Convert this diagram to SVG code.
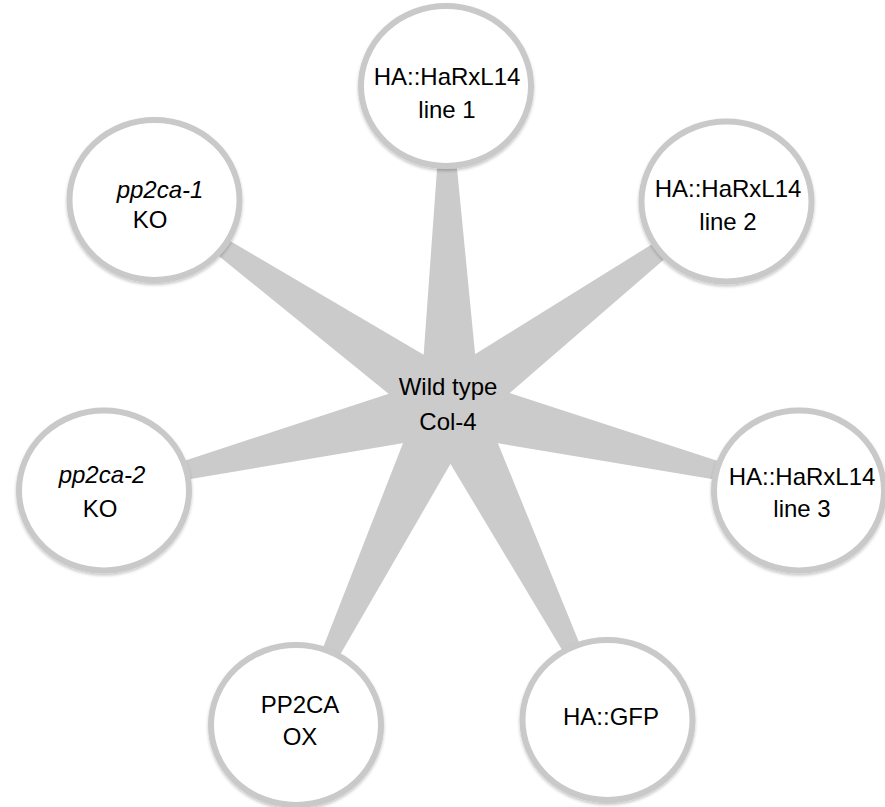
<svg xmlns="http://www.w3.org/2000/svg" width="885" height="807" viewBox="0 0 885 807">
<style>
.spoke{fill:#cbcbcb;stroke:none}
.node ellipse{fill:#ffffff;stroke:#c9c9c9;stroke-width:6;filter:url(#sh)}
text{font-family:"Liberation Sans",Arial,sans-serif;font-size:24px;fill:#000;text-anchor:middle}
.it{font-style:italic}
</style>
<defs>
<filter id="sh" x="-20%" y="-20%" width="140%" height="140%">
<feDropShadow dx="0" dy="2" stdDeviation="1.5" flood-color="#000" flood-opacity="0.22"/>
</filter>
</defs>
<rect width="885" height="807" fill="#ffffff"/>
<g id="connectors">
<polygon class="spoke" points="480,404.6 449,86 443,86 420,405.4"/>
<polygon class="spoke" points="467.8,429.2 728.3,203.9 724.7,199.1 432.2,380.8"/>
<polygon class="spoke" points="442.9,434.1 798.3,493.4 799.7,487.6 457.1,375.9"/>
<polygon class="spoke" points="423.2,418.4 604.8,721.3 610.2,718.7 476.8,391.6"/>
<polygon class="spoke" points="423,392 293.3,723.7 298.7,726.3 477,418"/>
<polygon class="spoke" points="442.8,375.9 103.3,487.6 104.7,493.4 457.2,434.1"/>
<polygon class="spoke" points="467.1,380.3 156.2,197.5 152.8,202.5 432.9,429.7"/>
</g>
<g id="center">
<text x="448" y="395">Wild type</text>
<text x="448" y="430">Col-4</text>
</g>
<g id="line1" class="node">
<ellipse cx="446" cy="86" rx="85" ry="80"/>
<text x="447" y="85">HA::HaRxL14</text>
<text x="447" y="118">line 1</text>
</g>
<g id="line2" class="node">
<ellipse cx="726.5" cy="201.5" rx="85" ry="80"/>
<text x="728" y="197">HA::HaRxL14</text>
<text x="728" y="230">line 2</text>
</g>
<g id="line3" class="node">
<ellipse cx="799" cy="490.5" rx="85" ry="80"/>
<text x="802" y="485">HA::HaRxL14</text>
<text x="802" y="517">line 3</text>
</g>
<g id="gfp" class="node">
<ellipse cx="607.5" cy="720" rx="85" ry="80"/>
<text x="611" y="725">HA::GFP</text>
</g>
<g id="pp2caox" class="node">
<ellipse cx="296" cy="725" rx="85" ry="80"/>
<text x="300" y="713">PP2CA</text>
<text x="300" y="745">OX</text>
</g>
<g id="pp2ca2" class="node">
<ellipse cx="104" cy="490.5" rx="85" ry="80"/>
<text x="102" y="483" class="it">pp2ca-2</text>
<text x="100" y="517">KO</text>
</g>
<g id="pp2ca1" class="node">
<ellipse cx="154.5" cy="200" rx="85" ry="80"/>
<text x="160" y="198" class="it">pp2ca-1</text>
<text x="150" y="228">KO</text>
</g>
</svg>
